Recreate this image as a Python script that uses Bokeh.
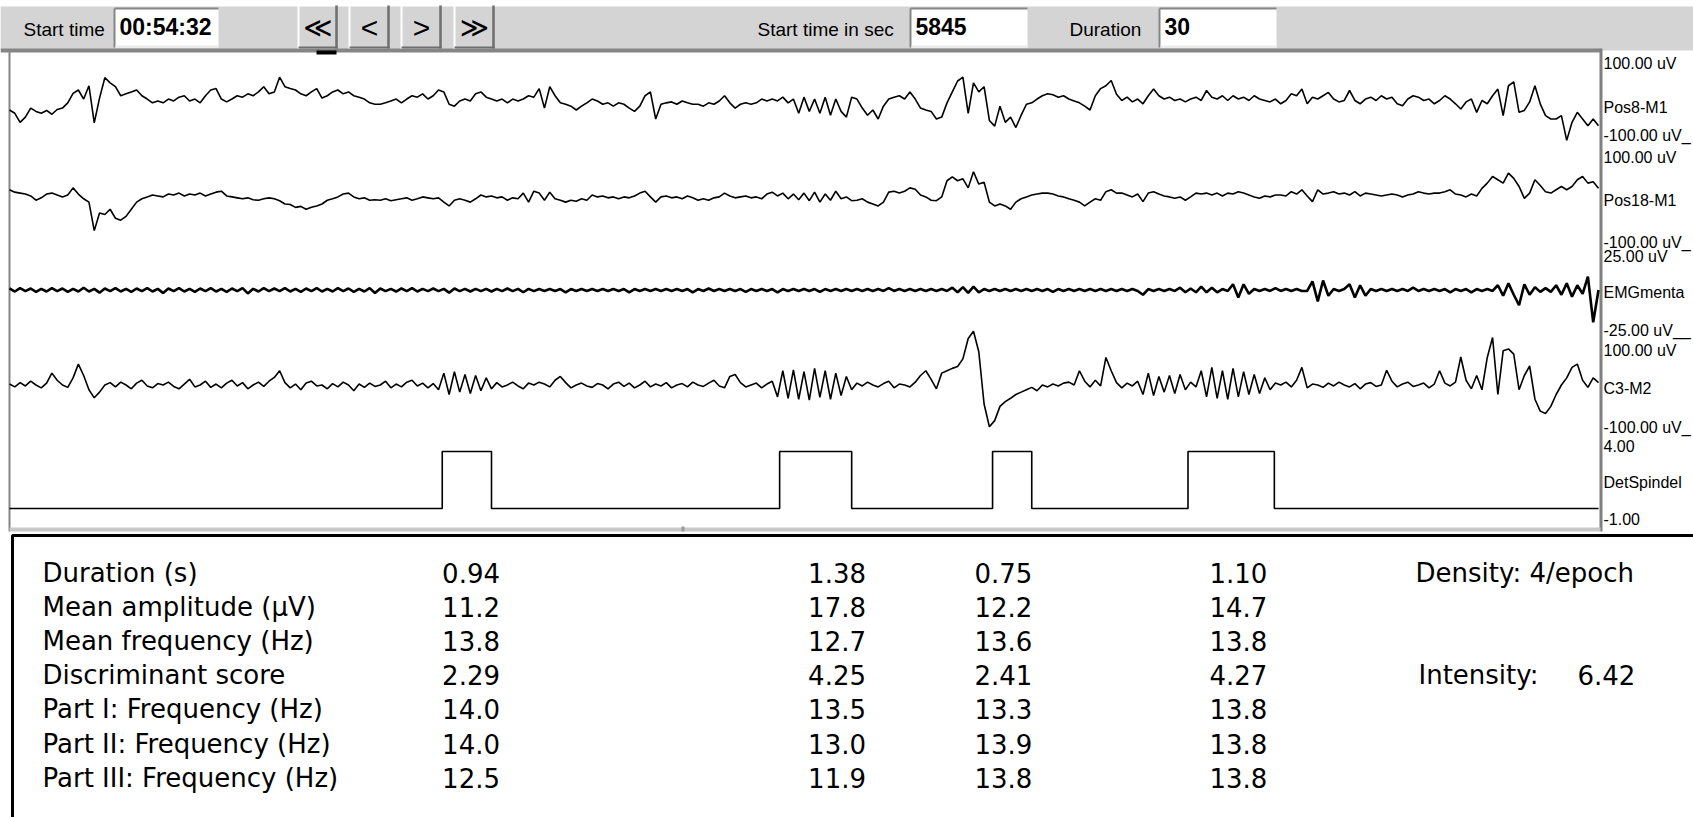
import numpy as np
from bokeh.plotting import figure
from bokeh.models import Range1d
from bokeh.core.properties import value
from bokeh.embed import file_html
from bokeh.resources import INLINE

# ---------------- DATA ----------------
START_TIME = "00:54:32"
START_SEC = "5845"
DURATION = "30"
DURATION_S = 30.0
SAMPLE_STEP_S = 0.1

CHANNELS = ["Pos8-M1", "Pos18-M1", "EMGmenta", "C3-M2", "DetSpindel"]
CH_MAX = [100.0, 100.0, 25.0, 100.0, 4.0]
CH_MIN = [-100.0, -100.0, -25.0, -100.0, -1.0]
CH_TOP_LABEL = ["100.00 uV", "100.00 uV", "25.00 uV", "100.00 uV", "4.00"]
CH_BOTTOM_LABEL = ["-100.00 uV_", "-100.00 uV_", "-25.00 uV__", "-100.00 uV_", "-1.00"]

pos8_uv = [
    -21, -28, -47, -36, -17, -24, -28, -22, -30, -20,
    -17, -6, 14, 21, 2, 30, -48, 4, 47, 36,
    28, 9, 13, 17, 21, 9, 2, -6, -2, -6,
    2, -2, 6, 9, -2, 2, -6, 9, 21, 24,
    2, -4, 2, 9, 6, 13, 9, 17, 28, 13,
    17, 48, 28, 24, 21, 13, 9, 17, 24, 4,
    9, 17, 21, 13, 17, 9, 6, 2, -6, -9,
    -9, -6, -2, 2, -6, 2, 9, 6, 13, 2,
    9, 21, 17, -9, -13, -2, 2, -2, 13, 17,
    6, 2, -2, 2, -6, 2, -2, 2, 9, 6,
    24, -17, 28, 9, -6, -9, -13, -21, -13, -6,
    2, -2, -9, -6, -13, -6, -9, -17, -24, -13,
    9, 17, -40, -9, -6, -4, -9, -2, -6, -9,
    -9, -13, -6, -9, -2, 9, -6, -17, -9, -6,
    -9, -6, 2, -2, 2, -2, 6, -6, 2, -28,
    6, -24, 2, -28, 6, -32, 2, -24, -36, 6,
    2, -17, -32, -21, -40, -13, 2, 6, 9, 2,
    17, 2, -17, -21, -24, -40, -36, -6, 17, 40,
    48, -28, 36, 17, 28, -43, -55, -13, -47, -36,
    -58, -32, -9, -6, 2, 9, 13, 11, 6, 9,
    2, -2, -6, -13, -21, 9, 24, 30, 41, 12,
    -1, 6, -4, 2, -8, 9, 23, 9, 2, 6,
    -1, 2, -4, 2, 6, -1, 20, 6, 2, 9,
    -1, 9, 2, 6, -1, 9, 2, -1, -4, 2,
    -8, -1, 13, 9, 23, -8, 6, 2, 9, 16,
    2, -4, -1, 20, -1, -8, 2, 6, -1, 9,
    2, 6, -8, -12, 2, 9, 6, -1, 2, -8,
    -1, 9, 2, -8, -19, -4, 2, -26, -1, -8,
    9, 23, -33, 30, 38, -26, -22, -4, 30, -8,
    -33, -40, -40, -33, -85, -47, -26, -40, -54, -40,
    -54,
]

pos18_uv = [
    11, 6, 4, 2, -2, -11, -6, 2, 4, 0,
    -4, 0, 15, 2, -8, -15, -75, -38, -41, -30,
    -49, -53, -45, -30, -15, -8, -4, 0, -2, -4,
    2, 0, 4, -2, 2, 0, 4, -2, 2, 6,
    8, -2, -4, -6, -8, -6, -10, -11, -8, -6,
    -8, -12, -19, -20, -26, -24, -30, -26, -23, -19,
    -11, -8, -4, 2, 4, -4, -8, -6, -11, -10,
    -11, -8, -12, -10, -8, -6, -11, -8, -4, -6,
    -8, -6, -15, -23, -11, -8, -11, -15, -8, 0,
    -4, -2, -6, -4, -11, -6, -8, 4, -15, 8,
    4, -11, 6, -8, -11, -15, -11, -13, -8, -11,
    0, -4, -2, -6, -4, -8, -4, -6, -2, 4,
    8, -4, -15, -4, -2, -6, -4, -8, -2, -6,
    -11, -8, -11, -6, -4, 4, -2, -6, -4, -2,
    -6, -4, -8, 2, 6, -2, 4, -8, 2, -10,
    4, -12, 6, -15, 2, -11, 8, -8, -4, -12,
    -11, -8, -15, -19, -23, -15, 6, 8, 4, 8,
    15, 12, 0, -4, -11, -12, -4, 30, 38, 30,
    34, 15, 49, 23, 27, -15, -23, -19, -23, -30,
    -15, -8, -4, 0, 2, 4, 4, 2, -2, -4,
    -8, -11, -15, -23, -15, -8, -11, 7, 11, 4,
    4, 0, -4, 2, -14, 4, 7, 2, -2, -4,
    -7, -4, -11, -4, 4, 2, 4, 0, 4, -2,
    4, 2, 7, 4, 0, -4, -7, -2, -4, 0,
    0, -2, 7, 2, 11, -2, -14, 11, 2, 4,
    7, 2, 4, 0, 7, -2, 4, 2, 0, -2,
    0, 2, 0, -4, 0, 2, 7, 4, 2, 4,
    4, 7, 11, 2, 0, -4, 2, -2, 14, 25,
    39, 32, 25, 46, 35, 18, -7, 4, 32, 20,
    7, 4, 11, 18, 11, 18, 32, 39, 25, 28,
    14,
]

emg_uv = [
    0.8, -0.8, 1.0, -0.6, 0.8, -1.0, 0.6, -0.8, 1.0, -0.6,
    0.8, -1.0, 0.6, -0.8, 1.2, -0.8, 0.6, -1.4, 0.8, -0.6,
    1.0, -0.8, 0.6, -1.0, 0.8, -0.6, 1.0, -0.8, 0.6, -1.6,
    0.8, -0.6, 1.0, -0.8, 0.6, -1.0, 0.8, -0.6, 1.0, -0.8,
    0.6, -1.0, 0.8, -0.6, 1.0, -1.8, 0.6, -0.8, 1.0, -0.6,
    0.8, -0.6, 1.0, -0.8, 0.6, -1.0, 0.8, -0.6, 1.0, -0.8,
    0.6, -0.8, 1.0, -0.6, 0.8, -1.0, 0.6, -0.8, 1.0, -1.6,
    0.8, -0.6, 0.6, -0.8, 0.8, -0.6, 1.0, -0.8, 0.6, -0.6,
    0.8, -0.6, 0.6, -1.4, 0.8, -0.6, 0.6, -0.8, 0.6, -0.6,
    0.6, -0.8, 0.6, -0.6, 0.8, -0.6, 0.6, -1.2, 0.6, -0.6,
    0.5, -0.5, 0.5, -0.5, 0.5, -1.2, 0.5, -0.5, 0.5, -0.5,
    0.5, -0.5, 0.5, -0.5, 0.5, -0.5, 0.5, -1.2, 0.5, -0.5,
    0.5, -0.5, 0.5, -0.5, 0.5, -0.5, 0.5, -0.5, 0.5, -1.2,
    0.5, -0.5, 0.8, -0.5, 0.5, -0.5, 0.5, -0.5, 0.5, -1.0,
    0.5, -0.5, 0.5, -0.5, 0.5, -1.2, 0.5, -0.5, 0.5, -0.5,
    0.5, -0.5, 0.5, -1.0, 0.5, -0.5, 0.5, -0.5, 0.5, -0.5,
    0.5, -0.5, 0.5, -0.5, 0.5, -0.5, 1.0, -0.5, 0.5, -0.5,
    0.5, -0.5, 0.5, -0.5, 0.5, -0.5, 0.5, -0.5, 1.2, -1.2,
    1.5, -1.5, 1.8, -1.2, 0.5, -0.5, 0.5, -0.5, 0.5, -0.5,
    0.5, -0.5, 0.5, -0.5, 0.5, -0.5, 0.5, -1.0, 0.5, -0.5,
    0.5, -0.5, 0.5, -0.5, 0.5, -0.5, 0.5, -0.5, 0.5, -0.5,
    0.5, -0.5, 0.5, -0.5, -2.5, 0.5, -0.5, 0.5, -0.5, 0.5,
    -0.5, 1.2, -1.2, 0.8, -1.2, 1.8, -1.2, 1.2, -1.2, 0.5,
    -0.5, 3.0, -4.0, 3.0, -2.0, 0.5, -0.5, 0.5, -0.5, 1.0,
    -0.5, 0.5, -0.5, 0.5, -0.5, -0.5, 4.5, -6.0, 5.0, -3.0,
    0.5, -0.5, 0.5, 3.0, -4.0, 2.5, -3.0, 0.5, -0.5, 0.5,
    -0.5, 0.5, -0.5, 0.5, -0.5, 1.2, -0.5, 0.5, -0.5, 0.5,
    -0.5, 0.5, -1.2, 0.5, -0.5, 0.5, -1.2, 0.5, -0.5, 0.5,
    -0.5, 2.5, -3.0, 3.5, -2.5, -8.0, 3.0, -2.5, 1.5, -1.0,
    1.0, -1.0, 2.5, -2.5, 3.5, -3.5, 2.5, -2.0, 7.0, -17.0,
    0.0,
]

c3_uv = [
    2, -4, 5, -2, 8, 0, -6, 4, 25, 10,
    0, -5, 15, 44, 20, -10, -27, -15, 0, 5,
    -4, 6, 0, -8, 4, 10, -2, -6, 3, 0,
    6, -3, -8, 2, 12, -4, 0, 8, -5, 2,
    -6, 4, 10, -2, 5, -8, 0, 6, -3, 8,
    16, 30, 5, -6, 2, -10, 4, 8, -2, 0,
    -8, 3, -4, 6, 0, -12, 2, -5, 4, -3,
    0, 8, -6, 2, -4, 6, 10, -2, 4, -6,
    3, -10, 25, -20, 28, -15, 22, -18, 20, -12,
    15, -8, 5, -4, 0, 6, -2, -8, 4, 0,
    6, 2, -4, 10, 18, 5, -6, 0, 4, -2,
    -5, 3, 0, -8, 2, 6, -3, 4, -6, 0,
    8, -4, 2, -2, 5, -6, 0, 3, -4, 6,
    0, -3, 4, 10, -2, -6, 18, 22, 5, -4,
    0, 4, -6, 2, 8, -25, 30, -28, 32, -30,
    28, -32, 35, -26, 30, -30, 25, -22, 18, -10,
    4, -2, 6, 0, -4, 3, 8, -6, 2, 0,
    -4, 6, 20, 30, 12, -8, 25, 30, 35, 39,
    55, 98, 113, 70, -40, -88, -75, -45, -35, -28,
    -20, -15, -10, -5, -12, 0, -4, 2, -2, 4,
    6, 0, 30, 8, -4, 10, -2, 58, 30, 5,
    -6, 4, -2, 8, -20, 25, -22, 18, -15, 20,
    -18, 22, -10, 6, -4, 30, -25, 37, -28, 30,
    -30, 35, -25, 28, -20, 22, -18, 15, -10, 4,
    0, 6, -4, 10, 37, -6, 2, 0, -5, 4,
    -2, 6, 0, -4, 3, -8, 2, 5, -3, 0,
    31, 8, -4, 2, 6, -3, 0, 4, -6, 2,
    30, 4, -2, 6, 59, 10, -8, 20, -10, 58,
    100, -20, 72, 76, 65, -10, 20, 40, -30, -55,
    -60, -45, -20, 0, 15, 37, 44, 10, -5, 15,
    5,
]

# Detected spindles (DetSpindel channel): onset / offset in seconds, level
spindle_start_s = [8.17, 14.54, 18.56, 22.25]
spindle_end_s = [9.10, 15.90, 19.30, 23.88]
spindle_off_level = 0.0
spindle_on_level = 3.0

# Result table
row_labels = ["Duration (s)", "Mean amplitude (\u00b5V)", "Mean frequency (Hz)",
              "Discriminant score", "Part I: Frequency (Hz)",
              "Part II: Frequency (Hz)", "Part III: Frequency (Hz)"]
duration_s = [0.94, 1.38, 0.75, 1.10]
mean_amplitude = [11.2, 17.8, 12.2, 14.7]
mean_frequency = [13.8, 12.7, 13.6, 13.8]
discriminant = [2.29, 4.25, 2.41, 4.27]
part1_freq = [14.0, 13.5, 13.3, 13.8]
part2_freq = [14.0, 13.0, 13.9, 13.8]
part3_freq = [12.5, 11.9, 13.8, 13.8]
density_text = "Density: 4/epoch"
intensity_label = "Intensity:"
intensity_value = "6.42"

# ---------------- LAYOUT ----------------
W, H = 1693, 817
TRACE_L, TRACE_R = 9, 1598
BAND_TOP = [52, 147, 242, 337, 432]
BAND_BOT = [147, 242, 337, 432, 527]
RIGHT_LABEL_X = 1603
RIGHT_LABEL_Y = [63, 107, 135, 157, 200, 242, 256, 292, 330, 350, 388, 427, 445, 482, 518]

GRAY = "#d4d4d4"
DARK = "#858585"

p = figure(width=W, height=H, x_range=Range1d(0, W), y_range=Range1d(H, 0),
           output_backend="svg", toolbar_location=None, min_border=0,
           x_axis_location=None, y_axis_location=None,
           background_fill_color="white", border_fill_color="white")
p.grid.visible = False
p.outline_line_color = None


def box(l, r, t, b, fill, line=None, lw=1):
    p.quad(left=[l], right=[r], top=[t], bottom=[b], fill_color=fill,
           line_color=line, line_width=lw)


def seg(x0, y0, x1, y1, color, lw=1):
    p.segment(x0=[x0], y0=[y0], x1=[x1], y1=[y1], line_color=color, line_width=lw)


def label(x, y, txt, size, font="Liberation Sans", style="normal", align="left"):
    p.text(x=[x], y=[y], text=[txt], text_font=value(font),
           text_font_size=f"{size}px", text_font_style=style,
           text_align=align, text_baseline="middle", text_color="black")


# toolbar
box(0, W, 6, 50, GRAY)
box(0, 1600, 48, 52, DARK)
label(23, 28.5, "Start time", 19)
label(757, 28.5, "Start time in sec", 19)
label(1069, 28.5, "Duration", 19)
for (l, r, txt) in [(114, 218, START_TIME), (910, 1027, START_SEC), (1159, 1276, DURATION)]:
    box(l, r, 8, 47, "white")
    seg(l, 8, r, 8, DARK, 2)
    seg(l, 8, l, 47, DARK, 2)
    seg(l + 1, 46, r, 46, "#ececec", 2)
    label(l + 5, 26, txt, 23, style="bold")

buttons = [(298, 337, "\u226a", "DejaVu Sans", 28), (349, 389, "<", "Liberation Sans", 30),
           (401, 441, ">", "Liberation Sans", 30), (454, 494, "\u226b", "DejaVu Sans", 28)]
for (l, r, txt, font, size) in buttons:
    box(l, r, 5, 48, GRAY)
    seg(l, 5, r, 5, "white", 2)
    seg(l, 5, l, 48, "white", 2)
    seg(r - 1, 5, r - 1, 48, "#6e6e6e", 2.5)
    seg(l, 47, r, 47, "#6e6e6e", 2)
    label((l + r) / 2, 27, txt, size, font=font, align="center")
box(316, 336, 50, 54, "black")

# trace panel frame
box(8, 10, 50, 531, DARK)
box(1599, 1602, 48, 531, "#808080")
box(9, 1600, 527, 531, "#c8c8c8")
box(681, 684, 526, 531, "#9a9a9a")

# extra ranges for the signals
k = DURATION_S / (TRACE_R - TRACE_L)
p.extra_x_ranges = {"time": Range1d(start=-TRACE_L * k, end=(W - TRACE_L) * k)}
extra_y = {}
for i, name in enumerate(CHANNELS):
    slope = (CH_MAX[i] - CH_MIN[i]) / (BAND_BOT[i] - BAND_TOP[i])
    top_v = CH_MAX[i] + BAND_TOP[i] * slope
    bottom_v = CH_MAX[i] - (H - BAND_TOP[i]) * slope
    extra_y[name] = Range1d(start=bottom_v, end=top_v)
p.extra_y_ranges = extra_y

for name, vals, lw in [("Pos8-M1", pos8_uv, 1.6), ("Pos18-M1", pos18_uv, 1.6),
                       ("EMGmenta", emg_uv, 2.6), ("C3-M2", c3_uv, 1.6)]:
    t = np.arange(len(vals)) * SAMPLE_STEP_S
    p.line(x=t, y=vals, x_range_name="time", y_range_name=name,
           line_color="black", line_width=lw)

sx, sy = [0.0], [spindle_off_level]
for s, e in zip(spindle_start_s, spindle_end_s):
    sx += [s, s, e, e]
    sy += [spindle_off_level, spindle_on_level, spindle_on_level, spindle_off_level]
sx.append(DURATION_S)
sy.append(spindle_off_level)
p.line(x=sx, y=sy, x_range_name="time", y_range_name="DetSpindel",
       line_color="black", line_width=1.6)

# right labels
right_texts = []
for i, name in enumerate(CHANNELS):
    right_texts += [CH_TOP_LABEL[i], name, CH_BOTTOM_LABEL[i]]
for y, txt in zip(RIGHT_LABEL_Y, right_texts):
    label(RIGHT_LABEL_X, y, txt, 16)

# result table
box(12, W + 30, 535, H + 30, "white", line="black", lw=3)
ROW_Y = [572, 606, 640, 674, 708, 743, 777]
COL_X = [441.6, 807.6, 974, 1209]
rows = [(duration_s, "{:.2f}"), (mean_amplitude, "{:.1f}"), (mean_frequency, "{:.1f}"),
        (discriminant, "{:.2f}"), (part1_freq, "{:.1f}"), (part2_freq, "{:.1f}"),
        (part3_freq, "{:.1f}")]
for y, lab, (vals, fmt) in zip(ROW_Y, row_labels, rows):
    label(42, y, lab, 26, font="DejaVu Sans")
    for x, v in zip(COL_X, vals):
        label(x, y, fmt.format(v), 26, font="DejaVu Sans")
label(1415, ROW_Y[0], density_text, 26, font="DejaVu Sans")
label(1418, ROW_Y[3], intensity_label, 26, font="DejaVu Sans")
label(1577, ROW_Y[3], intensity_value, 26, font="DejaVu Sans")

open("out.html", "w").write(file_html(p, INLINE))
